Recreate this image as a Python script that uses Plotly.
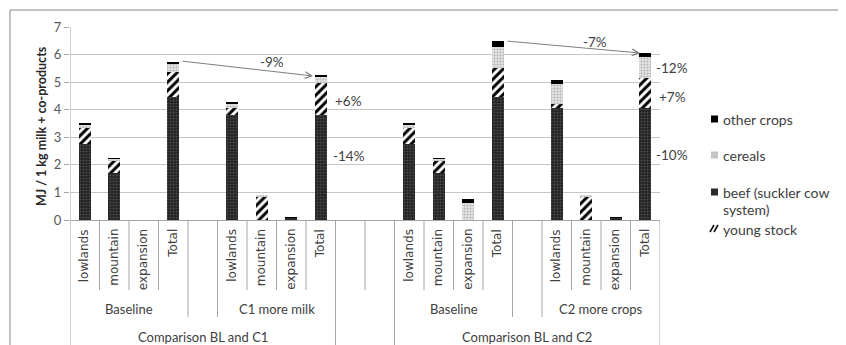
import plotly.graph_objects as go

# ---------------- data ----------------
slots = list(range(1, 21))
level1 = ["lowlands", "mountain", "expansion", "Total", "",
          "lowlands", "mountain", "expansion", "Total", "", "",
          "lowlands", "mountain", "expansion", "Total", "",
          "lowlands", "mountain", "expansion", "Total"]
level2 = [("Baseline", 1, 4), ("", 5, 5), ("C1 more milk", 6, 9), ("", 10, 11),
          ("Baseline", 12, 15), ("", 16, 16), ("C2 more crops", 17, 20)]
level3 = [("Comparison BL and C1", 1, 9), ("", 10, 11), ("Comparison BL and C2", 12, 20)]

beef = [2.75, 1.72, 0, 4.47, None, 3.82, 0, 0.08, 3.82, None, None,
        2.75, 1.72, 0, 4.47, None, 4.05, 0, 0.08, 4.05]
young_stock = [0.60, 0.42, 0, 0.90, None, 0.23, 0.85, 0, 1.15, None, None,
               0.60, 0.42, 0, 1.03, None, 0.15, 0.85, 0, 1.10]
cereals = [0.12, 0.08, 0, 0.28, None, 0.17, 0.05, 0, 0.20, None, None,
           0.12, 0.08, 0.60, 0.78, None, 0.75, 0.05, 0, 0.77]
other_crops = [0.03, 0.02, 0, 0.08, None, 0.05, 0, 0.02, 0.08, None, None,
               0.03, 0.02, 0.15, 0.20, None, 0.12, 0, 0.02, 0.12]

legend_names = ["other crops", "cereals", "beef (suckler cow", "system)", "young stock"]
pct_labels = ["-9%", "+6%", "-14%", "-7%", "-12%", "+7%", "-10%"]

# ---------------- layout geometry (screen pixels; page body has an 8px margin) ----------------
OFF = 8
SW, SH = 846, 345
PL, PR, PT, PB = 70, 660, 27, 220          # plot area on screen
PW, PH = PR - PL, PB - PT
W, H = SW - OFF, SH - OFF
L, T = PL - OFF, PT - OFF
R, B = W - L - PW, H - T - PH


def px(x):
    return (x - PL) / PW


def py(y):
    return (PB - y) / PH


def sx(x):
    return (x - PL) / (PW / 20) + 0.5


def sy(y):
    return (PB - y) / (PH / 7)


TXT = "#404040"
GRID = "#c6c6c6"
AX = "#a6a6a6"
FONT = "Lato"

fig = go.Figure()

bar_w = 0.42
fig.add_trace(go.Bar(x=slots, y=beef, name="beef (suckler cow system)", width=bar_w,
                     marker=dict(color="#2a2a2a", line=dict(width=0),
                                 pattern=dict(shape=".", bgcolor="#262626", fgcolor="#7a7a7a",
                                              size=3, solidity=0.25))))
fig.add_trace(go.Bar(x=slots, y=young_stock, name="young stock", width=bar_w,
                     marker=dict(color="white", line=dict(width=0),
                                 pattern=dict(shape="/", bgcolor="white", fgcolor="#000000",
                                              fgopacity=1, size=6, solidity=0.5))))
fig.add_trace(go.Bar(x=slots, y=cereals, name="cereals", width=bar_w,
                     marker=dict(color="#bbbbbb", line=dict(width=0),
                                 pattern=dict(shape=".", bgcolor="#eeeeee", fgcolor="#8a8a8a",
                                              size=3, solidity=0.5))))
fig.add_trace(go.Bar(x=slots, y=other_crops, name="other crops", width=bar_w,
                     marker=dict(color="#000000", line=dict(width=0))))

shapes = []
annotations = []

# outer chart border
shapes.append(dict(type="rect", xref="paper", yref="paper", x0=px(10), x1=px(870),
                   y0=py(370), y1=py(10), line=dict(color="#888888", width=1),
                   fillcolor="rgba(0,0,0,0)", layer="below"))

# category separators
y_l1 = py(290)
y_l2 = py(317)
y_l3 = py(360)
b_l2 = set()
for _, s, e in level2:
    b_l2.add(s - 0.5)
    b_l2.add(e + 0.5)
b_l3 = set()
for _, s, e in level3:
    b_l3.add(s - 0.5)
    b_l3.add(e + 0.5)
for k in range(0, 21):
    xb = k + 0.5
    if xb in b_l3:
        y_end = y_l3
    elif xb in b_l2:
        y_end = y_l2
    else:
        y_end = y_l1
    shapes.append(dict(type="line", xref="x", yref="paper", x0=xb, x1=xb,
                       y0=0, y1=y_end, line=dict(color=AX, width=1)))
# y axis line
shapes.append(dict(type="line", xref="x", yref="paper", x0=0.5, x1=0.5, y0=0, y1=1,
                   line=dict(color=AX, width=1)))

# level 1 labels (rotated)
for s, lab in zip(slots, level1):
    if lab:
        annotations.append(dict(x=s, y=py(227), xref="x", yref="paper", text=lab,
                                textangle=-90, showarrow=False, xanchor="center", yanchor="top",
                                font=dict(family="DejaVu Sans", size=12, color=TXT)))
for lab, s, e in level2:
    if lab:
        annotations.append(dict(x=(s + e) / 2, y=py(309), xref="x", yref="paper", text=lab,
                                showarrow=False, xanchor="center", yanchor="middle",
                                font=dict(family=FONT, size=13, color=TXT)))
for lab, s, e in level3:
    if lab:
        annotations.append(dict(x=(s + e) / 2, y=py(337), xref="x", yref="paper", text=lab,
                                showarrow=False, xanchor="center", yanchor="middle",
                                font=dict(family=FONT, size=13, color=TXT)))

# y-axis title
annotations.append(dict(x=px(41), y=py(126), xref="paper", yref="paper",
                        text="<b>MJ / 1 kg milk + co-products</b>", textangle=-90,
                        xanchor="center", yanchor="middle",
                        showarrow=False, font=dict(family=FONT, size=12.5, color="#262626")))

# arrows
annotations.append(dict(x=sx(313), y=sy(76), ax=sx(181), ay=sy(61), xref="x", yref="y",
                        axref="x", ayref="y", text="", showarrow=True, arrowhead=5,
                        arrowsize=1.3, arrowwidth=1, arrowcolor="#7f7f7f"))
annotations.append(dict(x=sx(640), y=sy(53), ax=sx(506), ay=sy(41), xref="x", yref="y",
                        axref="x", ayref="y", text="", showarrow=True, arrowhead=5,
                        arrowsize=1.3, arrowwidth=1, arrowcolor="#7f7f7f"))

# percentage labels
pct_pos = [(272, 62, "center"), (333, 101, "left"), (331, 156, "left"),
           (595, 42, "center"), (654, 68, "left"), (657, 97, "left"), (654, 155, "left")]
for lab, (x, y, anc) in zip(pct_labels, pct_pos):
    annotations.append(dict(x=sx(x), y=sy(y), xref="x", yref="y", text=lab, showarrow=False,
                            xanchor=anc, yanchor="middle",
                            font=dict(family=FONT, size=13.5, color=TXT)))

# manual legend
leg_y = [119, 155, 192, 209, 229]
for name, y in zip(legend_names, leg_y):
    annotations.append(dict(x=px(721), y=py(y), xref="paper", yref="paper", text=name,
                            showarrow=False, xanchor="left", yanchor="middle",
                            font=dict(family=FONT, size=14, color=TXT)))
sw = [(119, "#000000"), (155, "#c4c4c4"), (192, "#2a2a2a")]
for y, c in sw:
    shapes.append(dict(type="rect", xref="paper", yref="paper", x0=px(711), x1=px(718),
                       y0=py(y + 3.5), y1=py(y - 3.5), fillcolor=c, line=dict(width=0)))
for dx in (0, 4):
    shapes.append(dict(type="line", xref="paper", yref="paper", x0=px(710 + dx), x1=px(714 + dx),
                       y0=py(232), y1=py(225), line=dict(color="#111111", width=1.6)))

fig.update_layout(
    width=W, height=H, margin=dict(l=L, r=R, t=T, b=B, autoexpand=False),
    paper_bgcolor="white", plot_bgcolor="white",
    barmode="stack", showlegend=False, bargap=0,
    shapes=shapes, annotations=annotations,
    xaxis=dict(range=[0.5, 20.5], showticklabels=False, showgrid=False, zeroline=False,
               showline=True, linecolor=AX, ticks="", automargin=False),
    yaxis=dict(range=[0, 7], dtick=1, showgrid=True, gridcolor=GRID, zeroline=False,
               showline=False, ticks="outside", ticklen=5, tickcolor=AX, automargin=False,
               tickfont=dict(family=FONT, size=13, color="#595959")),
)

fig.write_html("out.html")
